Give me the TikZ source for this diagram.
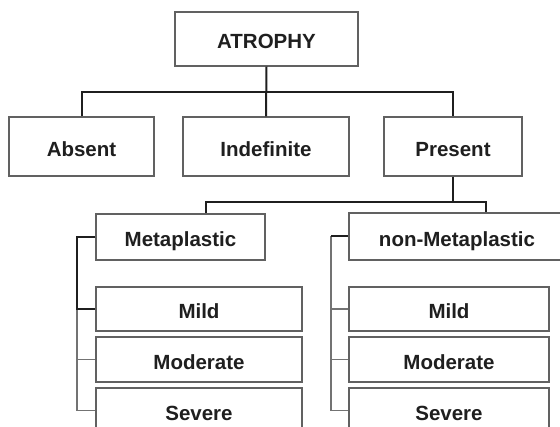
\documentclass[tikz,border=0pt]{standalone}
\usepackage{fontspec}
\setmainfont{Liberation Sans}
\begin{document}
\begin{tikzpicture}[x=1pt,y=-1pt,
  box/.style={draw=black!62,line width=1.4pt,fill=white,text=black!88,
    font=\fontsize{20.5}{24}\selectfont\bfseries,inner sep=0pt,
    text height=19.5pt,text depth=0pt},
  link/.style={black!88,line width=2pt},
  thin link/.style={black!55,line width=1.2pt}]
\clip (0,0) rectangle (560,427);

\node[box,minimum width=183pt,minimum height=54pt] (atrophy) at (266.5,39) {ATROPHY};
\node[box,minimum width=145pt,minimum height=59pt] (absent) at (81.5,146.5) {Absent};
\node[box,minimum width=166pt,minimum height=59pt] (indefinite) at (266,146.5) {Indefinite};
\node[box,minimum width=138pt,minimum height=59pt] (present) at (453,146.5) {Present};

\node[box,minimum width=169pt,minimum height=46pt] (meta) at (180.5,237) {Metaplastic};
\node[box,minimum width=216pt,minimum height=47pt] (nonmeta) at (457,236.5) {non-Metaplastic};

\node[box,minimum width=206pt,minimum height=44pt] (mild1) at (199,309) {Mild};
\node[box,minimum width=206pt,minimum height=45pt] (moderate1) at (199,359.5) {Moderate};
\node[box,minimum width=206pt,minimum height=45pt] (severe1) at (199,410.5) {Severe};
\node[box,minimum width=200pt,minimum height=44pt] (mild2) at (449,309) {Mild};
\node[box,minimum width=200pt,minimum height=45pt] (moderate2) at (449,359.5) {Moderate};
\node[box,minimum width=200pt,minimum height=45pt] (severe2) at (449,410.5) {Severe};

\coordinate (top bar) at (0,92);
\coordinate (meta drop) at (206,202);
\coordinate (nonmeta drop) at (486,202);
\coordinate (left rail) at (77,0);
\coordinate (right rail) at (331,0);

\draw[link] (atrophy.south) -- (indefinite.north);
\draw[link] (absent.north) -- (absent.north |- top bar) -- (present.north |- top bar) -- (present.north);

\draw[link] (present.south) |- (meta drop) -- (meta drop |- meta.north);
\draw[link] (present.south) |- (nonmeta drop) -- (nonmeta drop |- nonmeta.north);

\draw[thin link] (mild1.west -| left rail) |- (severe1.west);
\draw[thin link] (moderate1.west -| left rail) -- (moderate1.west);
\draw[link] (meta.west) -- (meta.west -| left rail) |- (mild1.west);

\draw[thin link] (nonmeta.west -| right rail) |- (severe2.west);
\draw[thin link] (mild2.west -| right rail) -- (mild2.west);
\draw[thin link] (moderate2.west -| right rail) -- (moderate2.west);
\draw[link] (nonmeta.west) -- (nonmeta.west -| right rail);
\end{tikzpicture}
\end{document}
